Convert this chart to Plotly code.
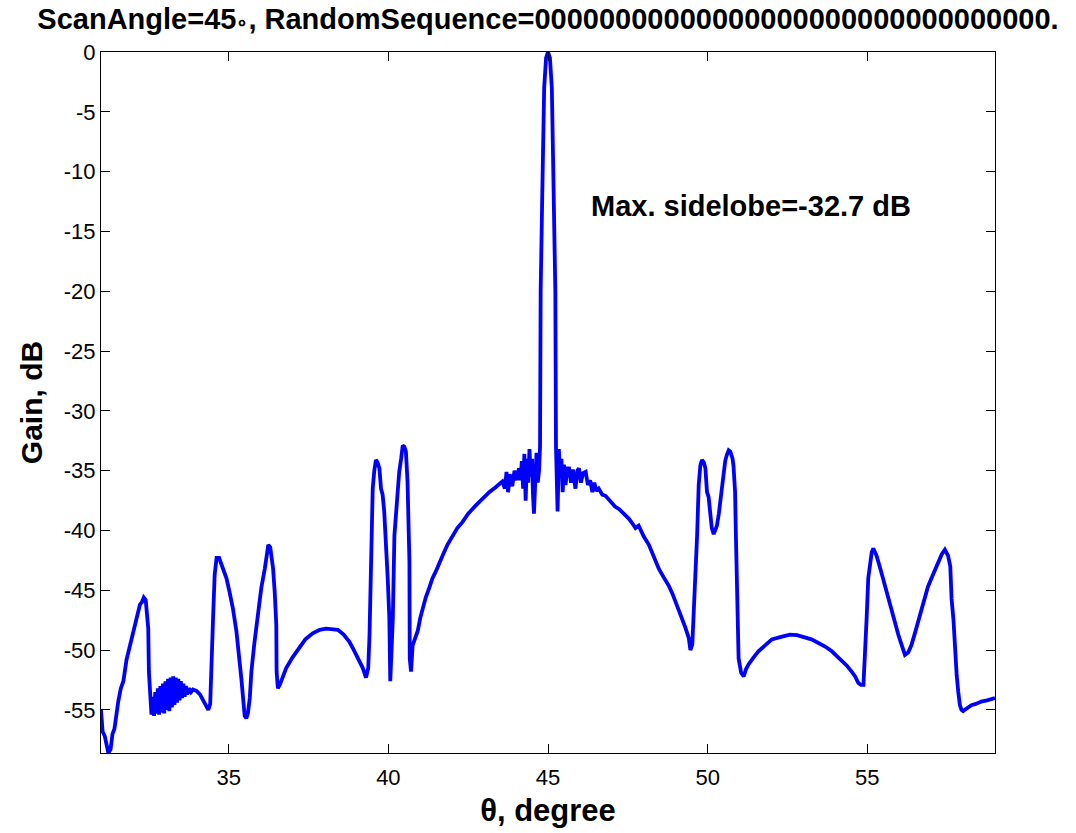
import plotly.graph_objects as go

theta = [
    31.00, 31.05, 31.12, 31.18, 31.23, 31.30, 31.36, 31.42, 31.50, 31.54, 31.62, 31.70, 31.80, 31.91, 31.98,
    32.06, 32.14, 32.22, 32.28, 32.34, 32.40, 32.44, 32.48, 32.50, 32.55, 32.58,
    32.62, 32.66, 32.70, 32.74, 32.78, 32.82, 32.86, 32.90, 32.94, 32.98, 33.02, 33.06, 33.10, 33.14,
    33.18, 33.22, 33.26, 33.30, 33.34, 33.38, 33.42, 33.46, 33.50, 33.54, 33.58, 33.62, 33.66, 33.70,
    33.76, 33.82, 33.88, 33.99, 34.10, 34.20, 34.30, 34.36, 34.42, 34.46, 34.51, 34.56, 34.62, 34.70,
    34.78, 34.93, 35.03, 35.13, 35.24, 35.34, 35.40, 35.45, 35.50, 35.55, 35.60, 35.66, 35.71, 35.80,
    35.87, 35.95, 36.02, 36.13, 36.18, 36.24, 36.30, 36.36, 36.39, 36.44, 36.49, 36.50, 36.54, 36.60,
    36.70, 36.80, 37.00, 37.22, 37.40, 37.63, 37.85, 38.05, 38.25, 38.42, 38.60, 38.78, 38.88, 39.04,
    39.20, 39.30, 39.37, 39.41, 39.44, 39.46, 39.51, 39.56, 39.61, 39.66, 39.72, 39.77, 39.82, 39.87,
    39.93, 39.98, 40.03, 40.06, 40.10, 40.14, 40.19, 40.24, 40.29, 40.34, 40.40, 40.45, 40.50, 40.55,
    40.60, 40.63, 40.66, 40.67, 40.71, 40.76, 40.85, 40.92, 41.00, 41.07, 41.17, 41.28, 41.38, 41.49,
    41.60, 41.70, 41.85, 42.01, 42.16, 42.32, 42.50, 42.74, 42.95, 43.16, 43.35, 43.57, 43.65, 43.70,
    43.75, 43.80, 43.88, 43.95, 44.02, 44.09, 44.14, 44.18, 44.22, 44.26, 44.30, 44.34, 44.38, 44.42,
    44.46, 44.50, 44.53, 44.56, 44.60, 44.64, 44.68, 44.72,
    44.75, 44.77, 44.82, 44.86, 44.88, 44.94, 45.00, 45.06, 45.12, 45.14, 45.18, 45.23, 45.25,
    45.28, 45.30, 45.32, 45.34, 45.38, 45.42, 45.46, 45.50, 45.55, 45.60, 45.66, 45.72, 45.78, 45.86,
    45.92, 45.97, 46.03, 46.10, 46.18, 46.25, 46.32, 46.39, 46.45, 46.52, 46.59, 46.70, 46.80, 46.90,
    47.00, 47.10, 47.22, 47.38, 47.53, 47.64, 47.74, 47.84, 48.00, 48.16, 48.30, 48.47, 48.62, 48.78,
    48.90, 48.99, 49.10, 49.20, 49.30, 49.41, 49.46, 49.52, 49.56, 49.61, 49.67, 49.72, 49.77, 49.82,
    49.88, 49.93, 49.98, 50.03, 50.08, 50.13, 50.19, 50.24, 50.29, 50.35, 50.40, 50.45, 50.50, 50.55,
    50.60, 50.66, 50.71, 50.78, 50.81, 50.86, 50.88, 50.92, 50.97, 51.05, 51.13, 51.20, 51.28, 51.44,
    51.59, 51.80, 52.01, 52.30, 52.58, 52.80, 53.05, 53.25, 53.47, 53.68, 53.89, 54.05, 54.20, 54.36,
    54.51, 54.62, 54.72, 54.80, 54.88, 54.93, 54.98, 55.03, 55.08, 55.14, 55.19, 55.24, 55.29, 55.42,
    55.55, 55.66, 55.76, 55.87, 55.97, 56.08, 56.18, 56.28, 56.38, 56.49, 56.59, 56.70, 56.80, 56.90,
    57.01, 57.12, 57.22, 57.33, 57.43, 57.53, 57.60, 57.64, 57.70, 57.74, 57.80, 57.85, 57.90, 57.95,
    58.00, 58.10, 58.26, 58.40, 58.57, 58.75, 58.89, 59.00,
]

gain_db = [
    -55.0, -56.8, -57.2, -58.2, -58.6, -58.3, -57.0, -56.6, -55.0, -54.3, -53.2, -52.6, -50.8, -49.6, -48.6,
    -47.9, -47.0, -46.2, -46.0, -45.6, -45.8, -47.0, -48.2, -51.8, -54.5, -55.4,
    -53.9, -55.5, -53.5, -55.3, -53.2, -55.4, -53.0, -55.2, -52.8, -55.3, -52.6, -55.0, -52.4, -55.1,
    -52.3, -54.8, -52.2, -54.6, -52.3, -54.4, -52.4, -54.2, -52.6, -54.0, -52.8, -53.9, -53.0, -53.7,
    -53.2, -53.5, -53.3, -53.4, -53.7, -54.2, -54.7, -55.0, -54.5, -52.1, -47.3, -43.7, -42.3, -42.3,
    -42.9, -44.0, -45.2, -46.5, -48.4, -50.7, -52.5, -54.0, -55.5, -55.7, -55.3, -54.0, -51.8, -49.5,
    -47.9, -46.2, -44.8, -43.2, -42.0, -41.2, -41.4, -42.3, -43.2, -45.1, -47.9, -51.8, -53.2, -52.9,
    -52.1, -51.5, -50.6, -49.8, -49.1, -48.6, -48.3, -48.2, -48.25, -48.3, -48.7, -49.3, -49.8, -50.7,
    -51.5, -52.3, -51.5, -48.7, -44.0, -40.7, -36.5, -35.0, -34.1, -34.3, -34.8, -36.5, -37.0, -38.4,
    -40.9, -44.0, -47.3, -52.6, -50.0, -47.3, -40.4, -38.5, -37.3, -35.1, -34.0, -32.9, -33.0, -33.4,
    -35.9, -40.0, -42.6, -50.7, -51.8, -49.6, -49.0, -48.4, -47.3, -46.5, -45.6, -44.8, -44.0, -43.4,
    -42.8, -42.1, -41.2, -40.4, -39.8, -39.3, -38.6, -37.9, -37.3, -36.8, -36.4, -35.9, -36.5, -35.1,
    -36.8, -35.3, -36.3, -35.0, -35.8, -34.8, -35.8, -34.2, -36.5, -33.6, -37.5, -34.0, -36.0, -33.2,
    -35.5, -34.0, -37.0, -38.6, -36.0, -33.5, -36.0, -35.0,
    -33.0, -20.0, -12.0, -6.0, -3.0, -0.5, 0.0, -0.5, -3.0, -6.0, -12.0, -20.0, -33.0,
    -36.0, -38.4, -36.0, -33.2, -35.5, -34.0, -36.8, -34.5, -36.2, -34.8, -34.8, -36.0, -34.9, -36.5,
    -35.0, -34.8, -36.0, -35.2, -35.1, -36.2, -35.8, -36.8, -36.0, -36.7, -36.5, -37.0, -37.1, -37.4,
    -37.6, -38.0, -38.2, -38.6, -39.0, -39.4, -39.8, -39.6, -40.5, -41.2, -42.2, -43.2, -43.9, -44.6,
    -45.3, -45.9, -46.6, -47.3, -48.1, -49.0, -50.0, -49.5, -47.3, -44.6, -40.4, -36.2, -34.6, -34.1,
    -34.3, -34.8, -36.8, -37.2, -38.4, -39.8, -40.3, -40.0, -39.6, -38.6, -37.6, -36.2, -35.1, -34.2,
    -33.7, -33.3, -33.4, -34.0, -34.6, -36.8, -39.8, -45.1, -50.7, -51.9, -52.2, -51.6, -51.2, -50.6,
    -50.1, -49.6, -49.1, -48.9, -48.7, -48.75, -48.9, -49.1, -49.4, -49.7, -50.1, -50.5, -50.9, -51.3,
    -51.8, -52.2, -52.75, -52.9, -52.9, -50.7, -47.3, -44.0, -42.8, -41.8, -41.5, -41.8, -42.1, -43.3,
    -44.6, -45.7, -46.8, -47.8, -48.7, -49.6, -50.4, -50.2, -49.6, -48.6, -47.6, -46.5, -45.4, -44.7,
    -44.0, -43.3, -42.6, -42.0, -41.6, -42.1, -43.0, -45.7, -47.5, -49.6, -52.1, -53.5, -54.6, -55.0,
    -55.1, -54.9, -54.6, -54.5, -54.3, -54.2, -54.1, -54.0,
]

x_ticks = [35, 40, 45, 50, 55]
y_ticks = [0, -5, -10, -15, -20, -25, -30, -35, -40, -45, -50, -55]
y_tick_text = [str(v) for v in y_ticks]

title_html = ("<b>ScanAngle=45<span style='font-size:19px'>\u2218</span>, RandomSequence="
              + "0" * 32 + ".</b>")
annot_text = "Max. sidelobe=-32.7 dB"

fig = go.Figure()
fig.add_trace(go.Scatter(
    x=theta, y=gain_db, mode="lines",
    line=dict(color="#0000FF", width=3.8),
    showlegend=False,
))

font_family = "Liberation Sans, Arial, sans-serif"

fig.update_layout(
    width=1076, height=833,
    margin=dict(l=101, r=81, t=52, b=78),
    paper_bgcolor="white", plot_bgcolor="white",
    font=dict(family=font_family, color="black", size=20),
    title=dict(
        text=title_html,
        x=0.5, xref="paper", xanchor="center",
        y=0.977, yref="container", yanchor="middle",
        font=dict(size=29, family=font_family, color="black"),
    ),
    annotations=[dict(
        x=46.28, y=-12.9, xref="x", yref="y", xanchor="left", yanchor="middle",
        text="<b>" + annot_text + "</b>", showarrow=False,
        font=dict(size=29, family=font_family, color="black"),
    )],
)

fig.update_xaxes(
    range=[31, 59], tickvals=x_ticks, ticks="inside", ticklen=9, tickcolor="black",
    showline=True, linecolor="black", linewidth=1.3, mirror="ticks",
    showgrid=False, zeroline=False, ticklabelstandoff=4,
    tickfont=dict(size=22, family=font_family),
    title=dict(text="<b>\u03b8, degree</b>", font=dict(size=31, family=font_family), standoff=10),
)
fig.update_yaxes(
    range=[-58.6, 0], tickvals=y_ticks, ticktext=y_tick_text, ticks="inside", ticklen=9, tickcolor="black",
    showline=True, linecolor="black", linewidth=1.3, mirror="ticks",
    showgrid=False, zeroline=False,
    tickfont=dict(size=22, family=font_family),
    title=dict(text="<b>Gain, dB</b>", font=dict(size=30, family=font_family), standoff=12),
)

fig.write_html("out.html")
